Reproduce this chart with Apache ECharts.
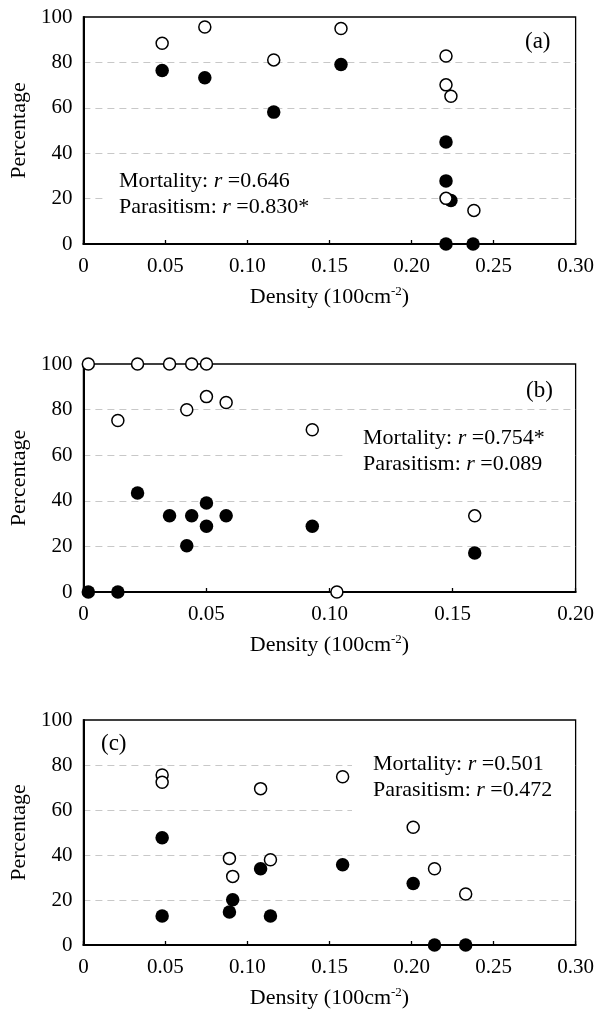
<!DOCTYPE html>
<html>
<head>
<meta charset="utf-8">
<script src="https://cdn.jsdelivr.net/npm/echarts@6/dist/echarts.min.js"></script>
<style>
html,body{margin:0;padding:0;background:#fff;}
#chart{width:597px;height:1011px;}
</style>
</head>
<body>
<div id="chart"></div>
<script>
// ---- Data ----
// Panel (a)
const mortA_x = [0.048, 0.074, 0.116, 0.157, 0.221, 0.221, 0.224, 0.221, 0.238];
const mortA_y = [88.4, 95.6, 81.1, 94.9, 82.8, 70.1, 65.1, 20.1, 14.8];
const paraA_x = [0.048, 0.074, 0.116, 0.157, 0.221, 0.221, 0.224, 0.221, 0.2375];
const paraA_y = [76.4, 73.2, 58.1, 79.1, 44.9, 27.8, 19.2, 0, 0];
// Panel (b)
const mortB_x = [0.002, 0.022, 0.035, 0.044, 0.050, 0.014, 0.042, 0.050, 0.058, 0.093, 0.159, 0.103];
const mortB_y = [100, 100, 100, 100, 100, 75.2, 79.9, 85.7, 83.1, 71.2, 33.4, 0];
const paraB_x = [0.002, 0.014, 0.022, 0.035, 0.044, 0.050, 0.050, 0.058, 0.042, 0.093, 0.159];
const paraB_y = [0, 0, 43.4, 33.4, 33.4, 39.0, 28.8, 33.4, 20.3, 28.8, 17.1];
// Panel (c)
const mortC_x = [0.048, 0.048, 0.108, 0.158, 0.201, 0.089, 0.091, 0.114, 0.214, 0.233];
const mortC_y = [75.6, 72.3, 69.5, 74.8, 52.3, 38.5, 30.5, 37.9, 33.9, 22.7];
const paraC_x = [0.048, 0.048, 0.089, 0.091, 0.108, 0.114, 0.158, 0.201, 0.214, 0.233];
const paraC_y = [47.7, 12.9, 14.7, 20.1, 33.9, 12.9, 35.7, 27.3, 0, 0];

// Tick labels
const xTicks30 = ['0', '0.05', '0.10', '0.15', '0.20', '0.25', '0.30'];
const xTicks20 = ['0', '0.05', '0.10', '0.15', '0.20'];
const yTicks = ['0', '20', '40', '60', '80', '100'];

// Annotation text
const panelLabels = ['(a)', '(b)', '(c)'];
const mortR = ['0.646', '0.754*', '0.501'];
const paraR = ['0.830*', '0.089', '0.472'];

// ---- Build ----
const FONT = "'Liberation Serif', 'Times New Roman', serif";
const pairs = (xs, ys) => xs.map((x, i) => [x, ys[i]]);

const grids = [
  {left: 83, right: 21, top: 17, height: 227},
  {left: 83, right: 21, top: 364, height: 228},
  {left: 83, right: 21, top: 720, height: 226}
].map(g => Object.assign(g, {show: true, borderColor: '#000', borderWidth: 1.3, backgroundColor: '#fff'}));

function xAxis(idx, ticks) {
  const max = (ticks.length - 1) * 0.05;
  return {
    type: 'value', gridIndex: idx, min: 0, max: max, interval: 0.05,
    name: 'Density (100cm{sup|-2})', nameLocation: 'middle', nameGap: 41,
    nameTextStyle: {fontFamily: FONT, fontSize: 22, color: '#000', lineHeight: 24,
      rich: {sup: {fontFamily: FONT, fontSize: 13, color: '#000', verticalAlign: 'top', lineHeight: 13}}},
    axisLine: {show: true, lineStyle: {color: '#000', width: 2}},
    axisTick: {show: true, inside: true, length: 4, lineStyle: {color: '#000', width: 1.3}},
    axisLabel: {fontFamily: FONT, fontSize: 21, color: '#000', margin: 12,
      formatter: v => ticks[Math.round(v / 0.05)]},
    splitLine: {show: false}
  };
}
function yAxis(idx) {
  return {
    type: 'value', gridIndex: idx, min: 0, max: 100, interval: 20,
    name: 'Percentage', nameLocation: 'middle', nameGap: 48, nameRotate: 90,
    nameTextStyle: {fontFamily: FONT, fontSize: 22, color: '#000'},
    axisLine: {show: true, lineStyle: {color: '#000', width: 2}},
    axisTick: {show: false},
    axisLabel: {fontFamily: FONT, fontSize: 21, color: '#000', margin: 11,
      formatter: v => yTicks[Math.round(v / 20)]},
    splitLine: {show: true, showMinLine: false, showMaxLine: false,
      lineStyle: {color: '#c8c8c8', type: [7, 5], width: 1}}
  };
}

function filled(idx, xs, ys) {
  return {type: 'scatter', xAxisIndex: idx, yAxisIndex: idx, data: pairs(xs, ys),
    symbol: 'circle', symbolSize: 13.5, clip: false, z: 3,
    itemStyle: {color: '#000', borderColor: '#000', borderWidth: 0, opacity: 1}};
}
function open(idx, xs, ys) {
  return {type: 'scatter', xAxisIndex: idx, yAxisIndex: idx, data: pairs(xs, ys),
    symbol: 'circle', symbolSize: 12, clip: false, z: 4,
    itemStyle: {color: '#fff', borderColor: '#000', borderWidth: 1.5, opacity: 1}};
}

const richR = {i: {fontFamily: FONT, fontSize: 22, fontStyle: 'italic', fill: '#000', lineHeight: 26}};
function annot(i, left, top, pad) {
  return {
    type: 'text', left: left, top: top, z: 10,
    style: {
      text: 'Mortality: {i|r} =' + mortR[i] + '\nParasitism: {i|r} =' + paraR[i],
      fontFamily: FONT, fontSize: 22, fill: '#000', lineHeight: 26,
      backgroundColor: '#fff', padding: pad, rich: richR
    }
  };
}
function plabel(i, left, top) {
  return {type: 'text', left: left, top: top, z: 10,
    style: {text: panelLabels[i], fontFamily: FONT, fontSize: 23, fill: '#000', lineHeight: 26}};
}

const option = {
  animation: false,
  backgroundColor: '#fff',
  grid: grids,
  xAxis: [xAxis(0, xTicks30), xAxis(1, xTicks20), xAxis(2, xTicks30)],
  yAxis: [yAxis(0), yAxis(1), yAxis(2)],
  series: [
    filled(0, paraA_x, paraA_y), open(0, mortA_x, mortA_y),
    filled(1, paraB_x, paraB_y), open(1, mortB_x, mortB_y),
    filled(2, paraC_x, paraC_y), open(2, mortC_x, mortC_y)
  ],
  graphic: [
    annot(0, 107, 164, [4, 12, 4, 12]),
    annot(1, 346, 421, [4, 28, 4, 17]),
    annot(2, 352, 747, [4, 22, 10, 21]),
    plabel(0, 525, 29),
    plabel(1, 526, 378),
    plabel(2, 101, 731)
  ]
};

const chart = echarts.init(document.getElementById('chart'), null, {renderer: 'canvas'});
chart.setOption(option);
</script>
</body>
</html>
